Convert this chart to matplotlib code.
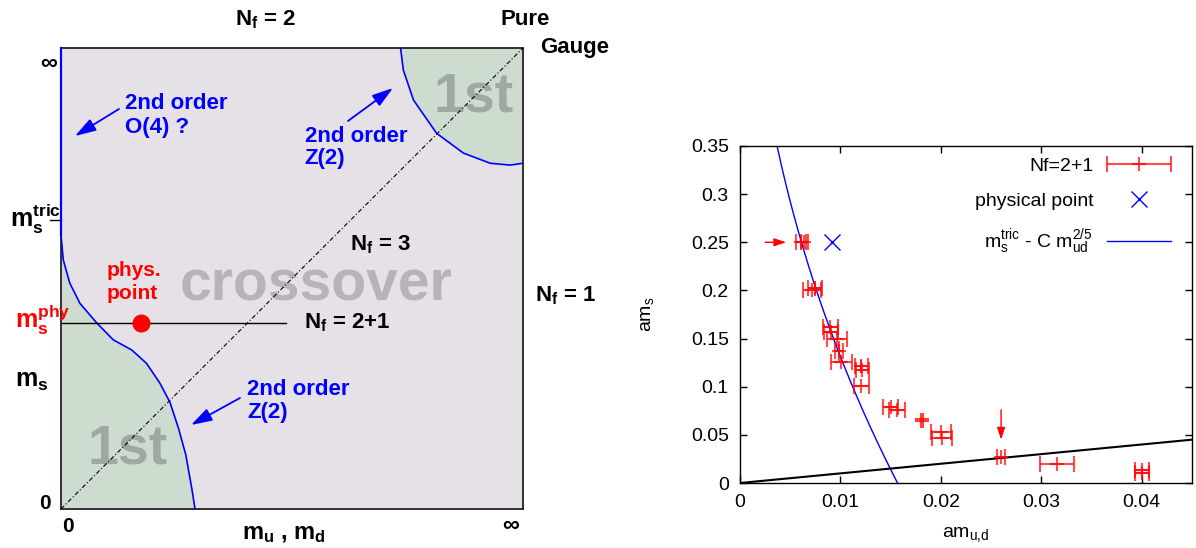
import numpy as np
import matplotlib
matplotlib.use("Agg")
import matplotlib.pyplot as plt
from matplotlib.legend_handler import HandlerErrorbar

plt.rcParams['font.family'] = ['Liberation Sans', 'DejaVu Sans']
plt.rcParams['mathtext.default'] = 'regular'

# ---------------- left panel: schematic phase diagram (unit square) ----------------
# critical line near the chiral corner
lo_curve_x = [0.0, 0.005, 0.019, 0.041, 0.077, 0.113, 0.153, 0.185, 0.214, 0.236, 0.2545, 0.270, 0.2836, 0.290]
lo_curve_y = [0.594, 0.540, 0.490, 0.446, 0.404, 0.367, 0.345, 0.316, 0.273, 0.231, 0.1744, 0.118, 0.0417, 0.0]
# critical line near the pure gauge corner
hi_curve_x = [0.735, 0.741, 0.763, 0.813, 0.871, 0.929, 0.972, 1.0]
hi_curve_y = [1.0, 0.952, 0.887, 0.815, 0.772, 0.750, 0.746, 0.750]

ms_tric = 0.626      # tricritical strange mass
ms_phys = 0.404      # physical strange mass
mud_phys = 0.174     # physical light mass
nf21_end = 0.486     # end of the Nf=2+1 line

# ---------------- right panel: lattice data ----------------
x_nf21 = [0.0061, 0.0064, 0.0072, 0.0075, 0.0090, 0.0091, 0.0097, 0.0099, 0.0101, 0.0121,
          0.0122, 0.0121, 0.0150, 0.0156, 0.0200, 0.0201, 0.0260, 0.0316, 0.0400, 0.0400]
y_nf21 = [0.250, 0.250, 0.200, 0.202, 0.162, 0.157, 0.150, 0.137, 0.126, 0.121,
          0.117, 0.101, 0.079, 0.0755, 0.053, 0.047, 0.027, 0.020, 0.014, 0.010]
xerr_nf21 = [0.0005, 0.00035, 0.0009, 0.0007, 0.00075, 0.0007, 0.0010, 0.0004, 0.00105, 0.0006,
             0.0006, 0.00075, 0.00075, 0.0008, 0.0010, 0.0010, 0.0004, 0.0017, 0.0007, 0.0007]
# points that also show a vertical error bar
x_vert = [0.0075, 0.0099, 0.0121]
y_vert = [0.202, 0.137, 0.121]
yerr_vert = [0.008, 0.010, 0.007]
# the bold cross near am_s = 0.065
x_bold = [0.0181]
y_bold = [0.065]
xerr_bold = [0.0007]
yerr_bold = [0.008]

phys_x, phys_y = 0.0092, 0.25
arrow_right = [(0.0025, 0.25), (0.0046, 0.25)]
arrow_down = [(0.0260, 0.076), (0.0260, 0.045)]

# fit m_s^tric - C m_ud^(2/5)
fit_ms_tric = 0.797
fit_C = 4.2
nf3_slope = 1.0   # am_s = am_ud line

xticks = [0, 0.01, 0.02, 0.03, 0.04]
xticklabels = ["0", "0.01", "0.02", "0.03", "0.04"]
yticks = [0, 0.05, 0.1, 0.15, 0.2, 0.25, 0.3, 0.35]
yticklabels = ["0", "0.05", "0.1", "0.15", "0.2", "0.25", "0.3", "0.35"]

fig = plt.figure(figsize=(11.96, 5.48), dpi=100)

# ================= left panel =================
ax1 = fig.add_axes([0.0510, 0.0712, 0.3863, 0.8412])
ax1.set_xlim(0, 1)
ax1.set_ylim(0, 1)
ax1.set_facecolor('#e6e1e6')
ax1.set_xticks([])
ax1.set_yticks([])
for sp in ax1.spines.values():
    sp.set_linewidth(1.3)
    sp.set_color('#222222')

green = '#cedccf'
ax1.fill(np.r_[0, lo_curve_x, 0], np.r_[0, lo_curve_y, 0], color=green, lw=0, zorder=1)
ax1.fill(np.r_[hi_curve_x, 1], np.r_[hi_curve_y, 1], color=green, lw=0, zorder=1)

bold = dict(fontweight='bold', clip_on=False)
ax1.text(0.2578, 0.4512, 'crossover', fontsize=41, color='#b8b3b9', zorder=2, **bold)
ax1.text(0.8063, 0.8627, '1st', fontsize=40, color='#9eaa9f', zorder=2, **bold)
ax1.text(0.0565, 0.0985, '1st', fontsize=40, color='#9eaa9f', zorder=2, **bold)

ax1.plot([0, 1], [0, 1], color='black', lw=0.8, ls=(0, (4, 2, 1, 2)), zorder=3)
ax1.plot(lo_curve_x, lo_curve_y, color='blue', lw=1.2, zorder=4)
ax1.plot(hi_curve_x, hi_curve_y, color='blue', lw=1.2, zorder=4)
ax1.plot([0, 0], [lo_curve_y[0], 1], color='blue', lw=1.6, zorder=5, clip_on=False)
ax1.plot([0, nf21_end], [ms_phys, ms_phys], color='black', lw=1.0, zorder=4)
ax1.plot([-0.024, 0], [ms_tric, ms_tric], color='black', lw=1.0, clip_on=False)
ax1.plot([mud_phys], [ms_phys], 'o', color='red', ms=12, zorder=6)

# axis-like labels
ax1.text(0.3777, 1.0495, 'N$_f$ = 2', fontsize=16, **bold)
ax1.text(0.9502, 1.0499, 'Pure', fontsize=16, **bold)
ax1.text(1.0368, 0.9885, 'Gauge', fontsize=16, **bold)
ax1.text(0.6264, 0.5614, 'N$_f$ = 3', fontsize=16, **bold)
ax1.text(1.0264, 0.4512, 'N$_f$ = 1', fontsize=16, **bold)
ax1.text(0.5260, 0.3907, 'N$_f$ = 2+1', fontsize=16, **bold)
ax1.text(-0.026, 0.9675, '\u221e', fontsize=17, ha='center', va='center', **bold)
ax1.text(0.974, -0.0347, '\u221e', fontsize=17, ha='center', va='center', **bold)
ax1.text(-0.0346, 0.0, '0', fontsize=15, ha='center', **bold)
ax1.text(0.0032, -0.0499, '0', fontsize=15, **bold)
ax1.text(0.3907, -0.0646, 'm$_u$ , m$_d$', fontsize=17, **bold)
ax1.text(-0.1104, 0.6124, 'm$_s^{tric}$', fontsize=18, **bold)
ax1.text(-0.0996, 0.3920, 'm$_s^{phy}$', fontsize=18, color='red', **bold)
ax1.text(-0.0996, 0.2653, 'm$_s$', fontsize=18, **bold)

# annotations
ax1.text(0.0994, 0.5046, 'phys.', fontsize=15, color='red', **bold)
ax1.text(0.0994, 0.4551, 'point', fontsize=15, color='red', **bold)
ax1.text(0.1379, 0.8672, '2nd order', fontsize=16, color='blue', **bold)
ax1.text(0.1379, 0.8156, 'O(4) ?', fontsize=16, color='blue', **bold)
ax1.text(0.5277, 0.7967, '2nd order', fontsize=16, color='blue', **bold)
ax1.text(0.5277, 0.7473, 'Z(2)', fontsize=16, color='blue', **bold)
ax1.text(0.4035, 0.2464, '2nd order', fontsize=16, color='blue', **bold)
ax1.text(0.4035, 0.1972, 'Z(2)', fontsize=16, color='blue', **bold)

blue_arrow = dict(arrowstyle='-|>,head_length=0.8,head_width=0.25', color='blue', lw=1.3,
                  mutation_scale=16, shrinkA=0, shrinkB=0)
ax1.annotate('', xy=(0.0303, 0.8091), xytext=(0.1255, 0.8677), arrowprops=blue_arrow, zorder=6)
ax1.annotate('', xy=(0.7186, 0.9132), xytext=(0.6212, 0.8417), arrowprops=blue_arrow, zorder=6)
ax1.annotate('', xy=(0.2814, 0.1822), xytext=(0.3874, 0.2408), arrowprops=blue_arrow, zorder=6)

# ================= right panel =================
ax2 = fig.add_axes([0.6187, 0.1186, 0.3779, 0.6150])
ax2.set_xlim(0, 0.045)
ax2.set_ylim(0, 0.35)

xx = np.linspace(0.003, 0.0158, 300)
fit_line, = ax2.plot(xx, fit_ms_tric - fit_C * xx ** 0.4, color='blue', lw=1.0, zorder=2)
ax2.plot([0, 0.045], [0, nf3_slope * 0.045], color='black', lw=1.5, zorder=2)

eb = ax2.errorbar(x_nf21, y_nf21, xerr=xerr_nf21, fmt='+', color='red', ms=10, mew=1.5,
                  elinewidth=1.5, capsize=5.5, capthick=1.5, alpha=0.7, zorder=3)
ax2.errorbar(x_vert, y_vert, yerr=yerr_vert, fmt='none', ecolor='red', elinewidth=1.5,
             capsize=0, alpha=0.7, zorder=3)
ax2.errorbar(x_bold, y_bold, xerr=xerr_bold, yerr=yerr_bold, fmt='none', ecolor='red',
             elinewidth=3, capsize=0, alpha=0.75, zorder=3)
phys_h, = ax2.plot([phys_x], [phys_y], 'x', color='blue', ms=12, mew=1.0, zorder=4)

red_arrow = dict(arrowstyle='-|>,head_length=0.6,head_width=0.2', color='red', lw=1.0,
                 mutation_scale=12, shrinkA=0, shrinkB=0)
ax2.annotate('', xy=arrow_right[1], xytext=arrow_right[0], arrowprops=red_arrow)
ax2.annotate('', xy=arrow_down[1], xytext=arrow_down[0], arrowprops=red_arrow)

ax2.set_xticks(xticks)
ax2.set_xticklabels(xticklabels)
ax2.set_yticks(yticks)
ax2.set_yticklabels(yticklabels)
ax2.tick_params(direction='in', length=5, width=1, top=True, right=True, labelsize=14, pad=8)
for sp in ax2.spines.values():
    sp.set_linewidth(1.0)

ax2.set_xlabel('am$_{u{,}d}$', fontsize=14)
ax2.set_ylabel('am$_s$', fontsize=14)
ax2.xaxis.set_label_coords(0.5, -0.125)
ax2.yaxis.set_label_coords(-0.185, 0.5)

ax2.legend([eb, phys_h, fit_line],
           ['Nf=2+1', 'physical point', 'm$_s^{tric}$ - C m$_{ud}^{2/5}$'],
           loc='upper right', bbox_to_anchor=(0.9535, 0.967), frameon=False,
           markerfirst=False, handlelength=3.3, handletextpad=0.7, labelspacing=0.9,
           borderpad=0, borderaxespad=0, fontsize=14,
           handler_map={eb: HandlerErrorbar(xerr_size=1.65)})

fig.savefig('out.png', dpi=100)
